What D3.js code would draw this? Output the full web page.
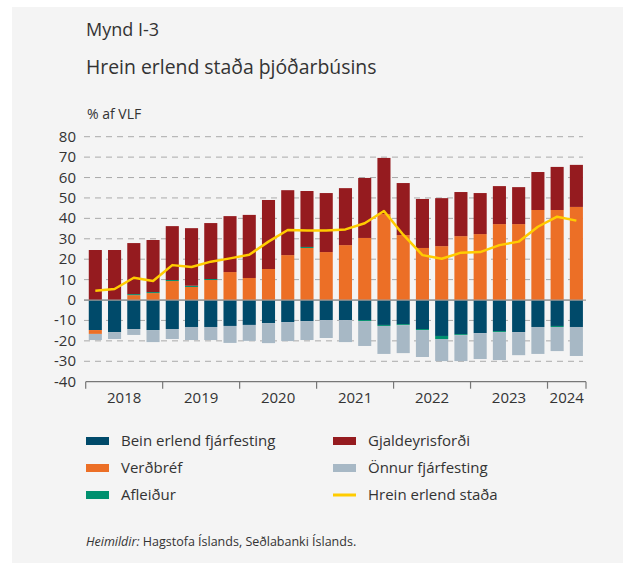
<!DOCTYPE html>
<html>
<head>
<meta charset="utf-8">
<script src="https://cdn.jsdelivr.net/npm/d3@7"></script>
<style>
  body { margin: 0; background: #fff; }
  text { font-family: "Open Sans", "Noto Sans", sans-serif; fill: #333; }
</style>
</head>
<body>
<svg id="chart" width="623" height="563"></svg>
<script>
// gögn, % af VLF, ársfjórðungar 2018F1 - 2024F2
let quarters = [];
for (let y = 2018; y <= 2024; y++) {
    for (let q = 1; q <= 4; q++) {
        if (y == 2024 && q > 2) break;
        quarters.push(y + "F" + q);
    }
}
let years = ["2018", "2019", "2020", "2021", "2022", "2023", "2024"];

let bein     = [-14.7,-15.7,-14.2,-14.7,-14.2,-13.2,-13.2,-12.7,-12.2,-11.3,-10.8,-10.3,-9.8,-9.8,-9.8,-12.2,-11.8,-14.2,-17.6,-16.7,-16.2,-15.2,-15.7,-13.2,-12.7,-13.2];
let verdbref = [-1.9,0,2.4,3.4,9.3,6.4,9.8,13.7,10.8,15.2,22,25.5,23.5,26.9,30.4,42.1,31.8,25.5,26.4,31.3,32.3,37.2,37.2,44.1,44.1,45.6];
let afleidur = [0,0,0.5,0.5,0.5,0.6,0.5,0,0,0,0,0.5,0,0,-0.5,-0.5,-0.5,-0.5,-1.5,-0.5,0,-0.5,0,0,-0.5,0];
let gjald    = [24.5,24.5,25,25.5,26.4,28.2,27.4,27.4,30.9,33.8,31.8,27.4,28.9,27.9,29.4,27.5,25.5,24,23.5,21.6,20.1,18.6,18.1,18.6,21.1,20.6];
let onnur    = [-3,-3.4,-2.9,-5.9,-4.9,-6.4,-6.4,-8.3,-7.8,-9.8,-9.3,-9.3,-8.8,-10.8,-12.2,-13.7,-13.7,-13.2,-10.8,-12.7,-12.7,-13.7,-11.3,-13.2,-11.8,-14.2];
let hrein    = [4.6,5.4,10.9,9.3,17.1,16.2,18.8,20.4,22.2,28.6,34.3,34.1,34,34.6,37.6,43.6,32,22,20.2,23.2,23.5,26.9,28.6,35.9,40.8,38.9];
let yTicks = [80,70,60,50,40,30,20,10,0,-10,-20,-30,-40];

let keys = ["bein", "verdbref", "afleidur", "gjald", "onnur"];
let names = {
    bein: "Bein erlend fjárfesting", verdbref: "Verðbréf", afleidur: "Afleiður",
    gjald: "Gjaldeyrisforði", onnur: "Önnur fjárfesting", hrein: "Hrein erlend staða"
};
let colors = {
    bein: "#004a6a", verdbref: "#ec6f26", afleidur: "#00906f",
    gjald: "#951b1f", onnur: "#a7b8c5", hrein: "#ffcc00"
};

let table = quarters.map(function(q, i) {
    return {q: q, bein: bein[i], verdbref: verdbref[i], afleidur: afleidur[i],
            gjald: gjald[i], onnur: onnur[i], hrein: hrein[i]};
});

let svg = d3.select("#chart");
svg.append("rect").attr("x", 12).attr("y", 7).attr("width", 611).attr("height", 556).attr("fill", "#f4f4f4");

svg.append("text").attr("x", 86).attr("y", 36).style("font-size", "18px").text("Mynd I-3");
svg.append("text").attr("x", 86).attr("y", 74).style("font-size", "19.4px").text("Hrein erlend staða þjóðarbúsins");
svg.append("text").attr("x", 87).attr("y", 119).style("font-size", "14px").text("% af VLF");

let x = d3.scaleBand().domain(quarters).range([85.7, 586]).paddingInner(0.32).paddingOuter(0.16);
let y = d3.scaleLinear().domain([-40, 80]).range([381.7, 136.7]);

// gridlínur
svg.append("g").selectAll("line")
    .data(yTicks.filter(d => d != -40))
    .enter().append("line")
    .attr("x1", 84).attr("x2", 583)
    .attr("y1", d => y(d)).attr("y2", d => y(d))
    .attr("stroke", d => d == 0 ? "#999" : "#aaa")
    .attr("stroke-width", d => d == 0 ? 1.3 : 1)
    .attr("stroke-dasharray", d => d == 0 ? null : "6,5");

svg.append("g").selectAll("text")
    .data(yTicks)
    .enter().append("text")
    .attr("x", 76).attr("y", d => y(d) + 5)
    .attr("text-anchor", "end")
    .style("font-size", "15px")
    .text(d => d);

let series = d3.stack().keys(keys).offset(d3.stackOffsetDiverging)(table);

svg.append("g").selectAll("g")
    .data(series)
    .enter().append("g")
    .attr("fill", d => colors[d.key])
    .selectAll("rect")
    .data(d => d)
    .enter().append("rect")
    .attr("x", d => x(d.data.q))
    .attr("width", x.bandwidth())
    .attr("y", d => y(d[1]))
    .attr("height", d => y(d[0]) - y(d[1]));

// núlllína yfir súlum
svg.append("line").attr("x1", 84).attr("x2", 586)
    .attr("y1", y(0)).attr("y2", y(0))
    .attr("stroke", "#999").attr("stroke-width", 1.2);

let line = d3.line()
    .x(d => x(d.q) + x.bandwidth() / 2)
    .y(d => y(d.hrein));
svg.append("path").datum(table)
    .attr("d", line)
    .attr("fill", "none")
    .attr("stroke", colors.hrein)
    .attr("stroke-width", 2.5)
    .attr("stroke-linejoin", "round");

// x-ás
let gap = (x.step() - x.bandwidth()) / 2;
let bounds = years.map(yr => x(yr + "F1") - gap);
bounds.push(x(quarters[quarters.length - 1]) + x.bandwidth() + gap);
svg.append("line").attr("x1", bounds[0]).attr("x2", bounds[bounds.length - 1])
    .attr("y1", y(-40)).attr("y2", y(-40)).attr("stroke", "#777").attr("stroke-width", 1.2);
svg.append("g").selectAll("line")
    .data(bounds)
    .enter().append("line")
    .attr("x1", d => d).attr("x2", d => d)
    .attr("y1", y(-40)).attr("y2", y(-40) + 7)
    .attr("stroke", "#777").attr("stroke-width", 1.2);
svg.append("g").selectAll("text")
    .data(years)
    .enter().append("text")
    .attr("x", (d, i) => (bounds[i] + bounds[i + 1]) / 2)
    .attr("y", 403)
    .attr("text-anchor", "middle")
    .style("font-size", "15px")
    .text(d => d);

// skýringar
let legend = [
    {k: "bein", c: 0, r: 0}, {k: "verdbref", c: 0, r: 1}, {k: "afleidur", c: 0, r: 2},
    {k: "gjald", c: 1, r: 0}, {k: "onnur", c: 1, r: 1}, {k: "hrein", c: 1, r: 2}
];
let lg = svg.append("g").selectAll("g")
    .data(legend)
    .enter().append("g")
    .attr("transform", d => "translate(" + (d.c ? 333 : 86) + "," + (441 + d.r * 27) + ")");
lg.append("rect")
    .attr("x", 0).attr("width", 23)
    .attr("y", d => d.k == "hrein" ? -1.5 : -4)
    .attr("height", d => d.k == "hrein" ? 3 : 8)
    .attr("fill", d => colors[d.k]);
lg.append("text").attr("x", 35).attr("y", 5)
    .style("font-size", "15px").text(d => names[d.k]);

let src = svg.append("text").attr("x", 86).attr("y", 546).style("font-size", "12.5px");
src.append("tspan").style("font-style", "italic").text("Heimildir:");
src.append("tspan").text(" Hagstofa Íslands, Seðlabanki Íslands.");
</script>
</body>
</html>
